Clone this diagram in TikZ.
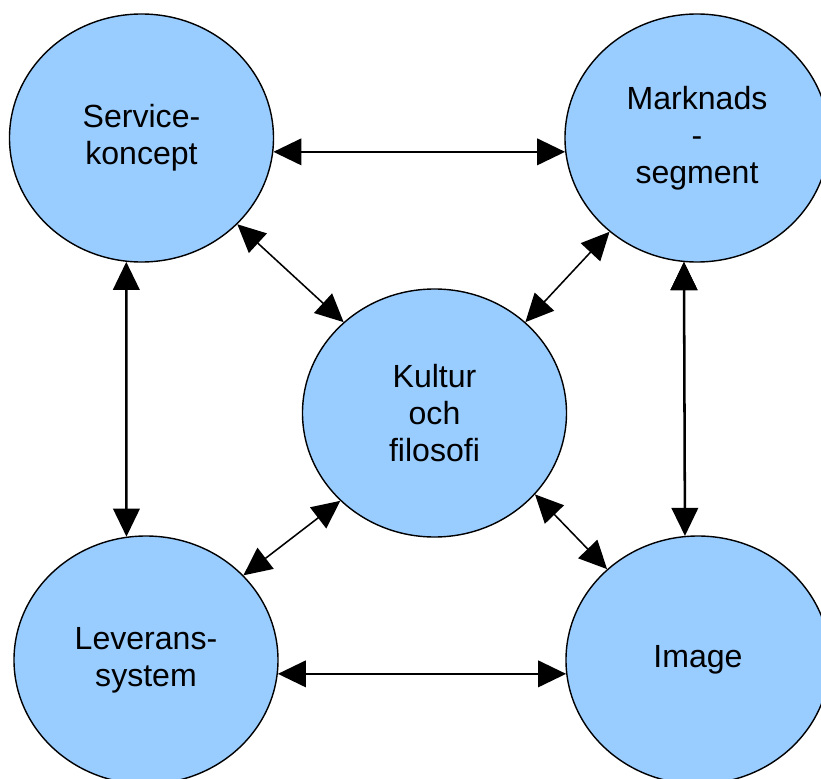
\documentclass[tikz,border=0pt]{standalone}
\usepackage{fontspec}
\setmainfont{Liberation Sans}
\usepackage{tikz}
\usetikzlibrary{positioning}
\usetikzlibrary{arrows.meta}
\usetikzlibrary{shapes}
\definecolor{areablue}{RGB}{153,204,255}
\tikzset{area node/.style={ellipse,fill=areablue,draw,line width=1pt,minimum width=6.6cm,minimum height=6.2cm,inner sep=0pt,align=center,font=\fontsize{22.8}{26.5}\selectfont},}

\begin{document}
\begin{tikzpicture}[<->, >={Triangle[length=0.7cm,width=0.66cm]}, on grid]
	\useasboundingbox (-10.8625,-9.125) rectangle (9.6625,10.325);
	\node[area node] (k) at (0,0) {Kultur\\och\\filosofi};
	\node[area node] (s) [above left=6.875cm and 7.325cm of k] {Service-\\koncept};
	\node[area node] (m) [above right=6.875cm and 6.5625cm of k] {Marknads\\-\\segment};
	\node[area node] (l) [below left=6.175cm and 7.2125cm of k] {Leverans-\\system};
	\node[area node] (i) [below right=6.175cm and 6.5875cm of k] {Image};

	\path[draw,line width=1.8pt]
	(s.-6) edge (m.186)
	(l.-6.5) edge (i.186.5)
	(s.263) edge (l.99)
	(m.264) edge (i.96.5);

	\draw[line width=1.1pt] (s.-42) -- (k.135);
	\draw[line width=1.1pt] (m.227) -- (k.45);
	\draw[line width=1.1pt] (l.41) -- (k.223);
	\draw[line width=1.1pt] (k.-39) -- (i.135);
\end{tikzpicture}
\end{document}
